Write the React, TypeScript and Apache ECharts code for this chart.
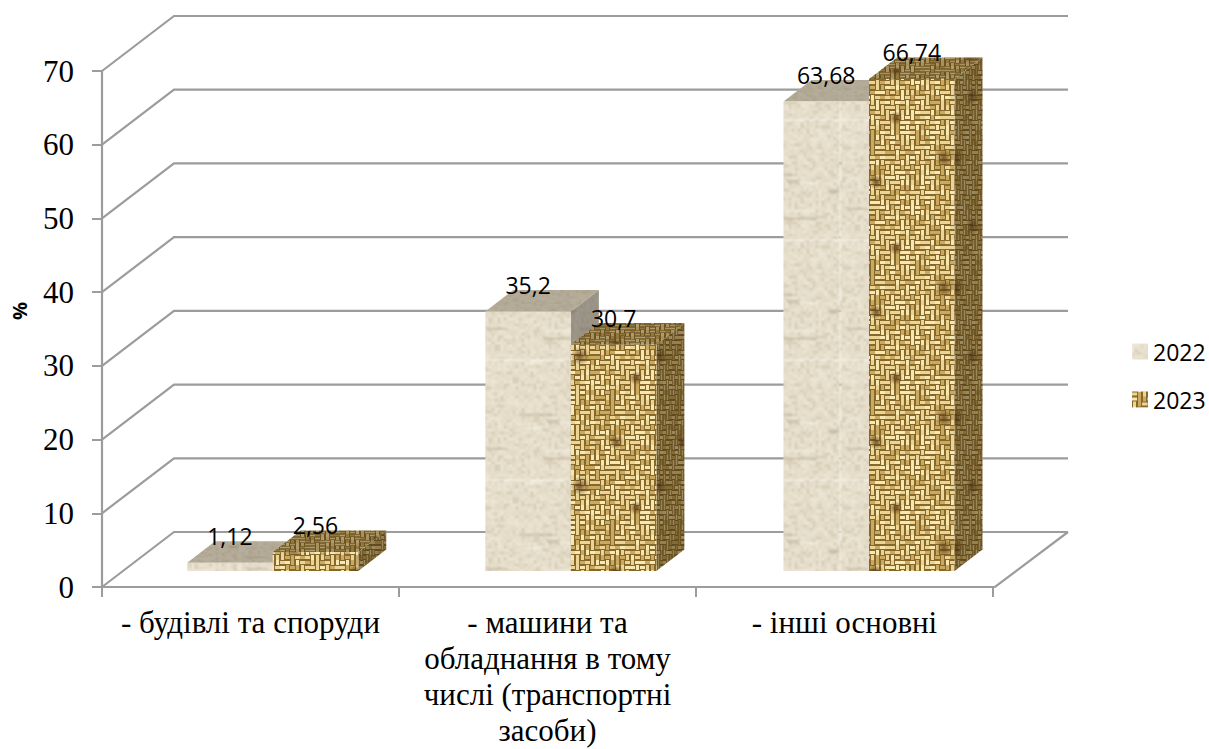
import React, { useEffect, useRef } from "react";
import * as echarts from "echarts";

const categories = [
  "- будівлі та споруди",
  "- машини та\nобладнання в тому\nчислі (транспортні\nзасоби)",
  "- інші основні",
];
const values2022 = [1.12, 35.2, 63.68];
const values2023 = [2.56, 30.7, 66.74];
const labels2022 = ["1,12", "35,2", "63,68"];
const labels2023 = ["2,56", "30,7", "66,74"];
const yTicks = [0, 10, 20, 30, 40, 50, 60, 70];

// deterministic speckle used only for the cloth texture of the bars
const speck = (a: number, b: number) => {
  const s = Math.sin(a * 12.9898 + b * 78.233) * 43758.5453;
  return s - Math.floor(s);
};

function makeTile(kind: "linen" | "weave", shade: number, shadeColor: string) {
  const size = kind === "weave" ? 130 : 120;
  const raw = document.createElement("canvas");
  raw.width = raw.height = size;
  const c = raw.getContext("2d")!;
  if (kind === "weave") {
    c.fillStyle = "#86682c";
    c.fillRect(0, 0, size, size);
    const cell = 5;
    const n = size / cell;
    for (let r = 0; r < n; r++) {
      for (let i = 0; i < n; i++) {
        const flip = Math.floor(i / 6) % 2 === 0;
        const phase = flip ? i + r : i - r + n * 2;
        const horizontal = (phase % 4 < 2) !== speck(i, r) > 0.88;
        const t = speck(r + 3, i + 7);
        c.fillStyle = t > 0.72 ? "#f7e8b2" : t > 0.28 ? "#ecd594" : "#c9aa60";
        const x = i * cell;
        const y = r * cell;
        if (horizontal) c.fillRect(x, y + 1, cell, 3);
        else c.fillRect(x + 1, y, 3, cell);
      }
    }
    const blotches = [
      [34, 28, 9],
      [96, 52, 8],
      [60, 96, 10],
      [116, 118, 7],
    ];
    blotches.forEach(([x, y, rad]) => {
      const g = c.createRadialGradient(x, y, 1, x, y, rad);
      g.addColorStop(0, "rgba(95,60,15,0.75)");
      g.addColorStop(1, "rgba(95,60,15,0)");
      c.fillStyle = g;
      c.fillRect(x - rad, y - rad, rad * 2, rad * 2);
    });
  } else {
    c.fillStyle = "#e4dcc8";
    c.fillRect(0, 0, size, size);
    for (let r = 0; r < size / 3; r++) {
      for (let i = 0; i < size / 3; i++) {
        const t = speck(i + 11, r + 5);
        c.fillStyle =
          t > 0.82 ? "#f4eedf" : t > 0.5 ? "#ebe4d2" : t > 0.16 ? "#e0d7c2" : "#cbc1a9";
        c.fillRect(i * 3, r * 3, 2, 2);
      }
    }
    for (let r = 0; r < 12; r++) {
      const y = Math.floor(speck(r, 1) * size);
      const x = Math.floor(speck(r, 2) * size);
      const len = 10 + Math.floor(speck(r, 3) * 26);
      c.fillStyle = r % 2 ? "rgba(165,152,125,0.55)" : "rgba(250,246,236,0.7)";
      c.fillRect(x, y, len, 1.5);
    }
  }
  const out = document.createElement("canvas");
  out.width = out.height = size;
  const o = out.getContext("2d")!;
  (o as any).filter = kind === "weave" ? "blur(0.65px)" : "blur(0.8px)";
  for (let dx = -size; dx <= size; dx += size) {
    for (let dy = -size; dy <= size; dy += size) {
      o.drawImage(raw, dx, dy);
    }
  }
  (o as any).filter = "none";
  if (shade > 0) {
    o.fillStyle = shadeColor;
    o.globalAlpha = shade;
    o.fillRect(0, 0, size, size);
    o.globalAlpha = 1;
  }
  return out;
}

function pattern(canvas: HTMLCanvasElement, scaleX = 1, scaleY = 1) {
  return {
    image: canvas,
    repeat: "repeat",
    imageWidth: canvas.width,
    imageHeight: canvas.height,
    scaleX,
    scaleY,
  } as any;
}

export default function App() {
  const ref = useRef<HTMLDivElement>(null);

  useEffect(() => {
    document.body.style.margin = "0";
    const chart = echarts.init(ref.current!, undefined, { renderer: "svg" });

    const linen = makeTile("linen", 0, "#000");
    const linenTop = makeTile("linen", 0.42, "#6e6450");
    const linenSide = makeTile("linen", 0.55, "#5c5850");
    const weave = makeTile("weave", 0, "#000");
    const weaveTop = makeTile("weave", 0.42, "#4a3510");
    const weaveSide = makeTile("weave", 0.5, "#3d2c0c");

    const BAR_SHIFT_X = 22.2;
    const BAR_STRETCH = 1.15;
    const BAR_SHIFT_Y = -16;
    const DEPTH_X = 28;
    const DEPTH_Y = -21.6;
    const WALL_X = 72;
    const WALL_Y = -55;
    const LINE = "#9c9c9c";

    const wallRender = (params: any, api: any) => {
      const v = api.value(0);
      const cs = params.coordSys;
      const left = cs.x;
      const y = api.coord([0, v])[1];
      const lineStyle = { stroke: LINE, lineWidth: 2.2, fill: "none" };
      const children: any[] = [
        {
          type: "polyline",
          shape: {
            points: [
              [left, y],
              [left + WALL_X, y + WALL_Y],
              [left + cs.width + WALL_X + 3, y + WALL_Y],
            ],
          },
          style: lineStyle,
        },
      ];
      if (v === 0) {
        children.push({
          type: "polyline",
          shape: {
            points: [
              [left + cs.width + WALL_X + 3, y + WALL_Y],
              [left + cs.width + 2, y],
              [left + cs.width - 2, y],
            ],
          },
          style: lineStyle,
        });
      }
      return { type: "group", children };
    };

    const barRender =
      (side: -1 | 1, labels: string[], front: any, top: any, sideFill: any) =>
      (params: any, api: any) => {
        const band = api.size([1, 0])[0];
        const w = band * 0.288;
        const base = api.coord([api.value(0), 0]);
        const peak = api.coord([api.value(0), api.value(1)]);
        const cx = base[0] + BAR_SHIFT_X + params.dataIndex * BAR_STRETCH;
        const x0 = side < 0 ? cx - w : cx;
        const x1 = x0 + w;
        const yb = base[1] + BAR_SHIFT_Y;
        const yt = peak[1] + BAR_SHIFT_Y;
        return {
          type: "group",
          children: [
            {
              type: "polygon",
              shape: {
                points: [
                  [x1, yb],
                  [x1 + DEPTH_X, yb + DEPTH_Y],
                  [x1 + DEPTH_X, yt + DEPTH_Y],
                  [x1, yt],
                ],
              },
              style: { fill: sideFill },
            },
            {
              type: "polygon",
              shape: {
                points: [
                  [x0, yt],
                  [x0 + DEPTH_X, yt + DEPTH_Y],
                  [x1 + DEPTH_X, yt + DEPTH_Y],
                  [x1, yt],
                ],
              },
              style: { fill: top },
            },
            {
              type: "rect",
              shape: { x: x0, y: yt, width: w, height: yb - yt },
              style: { fill: front },
            },
            {
              type: "text",
              z2: 100,
              style: {
                text: labels[params.dataIndex],
                x: (x0 + x1) / 2,
                y: yt - 27,
                align: "center",
                verticalAlign: "middle",
                fill: "#000",
                fontSize: 23,
                fontFamily: "Open Sans",
              },
            },
          ],
        };
      };

    chart.setOption({
      animation: false,
      backgroundColor: "#fff",
      grid: { left: 102, top: 71, width: 891, height: 516, containLabel: false, outerBoundsMode: "none" },
      legend: {
        show: true,
        orient: "vertical",
        left: 1127,
        top: 335,
        itemWidth: 16,
        itemHeight: 16,
        itemGap: 25,
        data: [
          { name: "2022", icon: "rect" },
          { name: "2023", icon: "rect" },
        ],
        textStyle: { fontFamily: "Open Sans", fontSize: 23, color: "#000" },
      },
      xAxis: {
        type: "category",
        data: categories,
        axisLine: { lineStyle: { color: LINE, width: 2.2 } },
        axisTick: { show: true, length: 10, lineStyle: { color: LINE, width: 2 } },
        axisLabel: {
          interval: 0,
          margin: 17,
          color: "#000",
          fontFamily: "Liberation Serif",
          fontSize: 31,
          lineHeight: 36,
          align: "center",
          verticalAlign: "top",
        },
      },
      yAxis: {
        type: "value",
        min: 0,
        max: 70,
        interval: 10,
        name: "%",
        nameLocation: "middle",
        nameGap: 73,
        nameRotate: 90,
        nameTextStyle: {
          fontFamily: "Open Sans",
          fontWeight: "bold",
          fontSize: 20,
          color: "#000",
          padding: [0, 0, 0, 36],
        },
        axisLine: { show: true, lineStyle: { color: LINE, width: 2.2 } },
        axisTick: { show: true, length: 10, lineStyle: { color: LINE, width: 2 } },
        splitLine: { show: false },
        axisLabel: {
          margin: 28,
          color: "#000",
          fontFamily: "Liberation Serif",
          fontSize: 31,
        },
      },
      series: [
        {
          type: "custom",
          name: "walls",
          silent: true,
          data: yTicks.map((t) => [t]),
          encode: { y: 0 },
          renderItem: wallRender,
          z: 1,
        },
        {
          type: "custom",
          name: "2022",
          data: values2022.map((v, i) => [i, v]),
          encode: { x: 0, y: 1 },
          itemStyle: { color: pattern(linen) },
          renderItem: barRender(-1, labels2022, pattern(linen), pattern(linenTop, 1, 0.6), pattern(linenSide, 0.6, 1)),
          z: 2,
        },
        {
          type: "custom",
          name: "2023",
          data: values2023.map((v, i) => [i, v]),
          encode: { x: 0, y: 1 },
          itemStyle: { color: pattern(weave) },
          renderItem: barRender(1, labels2023, pattern(weave), pattern(weaveTop, 1, 0.6), pattern(weaveSide, 0.6, 1)),
          z: 3,
        },
      ],
    });

    return () => chart.dispose();
  }, []);

  return (
    <div
      ref={ref}
      style={{ position: "absolute", left: 0, top: 0, width: 1209, height: 749 }}
    />
  );
}
